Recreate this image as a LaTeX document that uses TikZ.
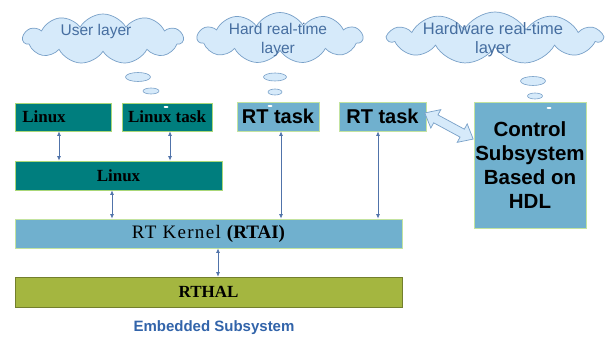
\documentclass[tikz,border=0pt]{standalone}
\usepackage{fontspec}
\setmainfont{Liberation Serif}
\setsansfont{Liberation Sans}
\usetikzlibrary{arrows.meta,shapes.symbols,shapes.arrows,shapes.geometric}
\definecolor{teal1}{RGB}{0,126,126}
\definecolor{tealbd}{RGB}{170,215,120}
\definecolor{sky}{RGB}{112,176,206}
\definecolor{olive1}{RGB}{164,182,64}
\definecolor{cloudfill}{RGB}{214,234,250}
\definecolor{cloudbd}{RGB}{120,160,200}
\definecolor{cloudtxt}{RGB}{70,110,160}
\definecolor{arr}{RGB}{80,115,170}
\definecolor{embtxt}{RGB}{50,100,170}
\begin{document}
\begin{tikzpicture}[x=1pt,y=-1pt,
  tealbox/.style={draw=tealbd,line width=0.8pt,fill=teal1,inner sep=0pt,
    font=\fontsize{17}{19}\selectfont\bfseries,text=black},
  skybox/.style={draw=tealbd!70!white,line width=0.8pt,fill=sky,inner sep=0pt},
  layercloud/.style={cloud,cloud puffs=11,cloud puff arc=120,aspect=3.4,draw=cloudbd,
    fill=cloudfill,line width=0.7pt,inner sep=0pt},
  cloudlabel/.style={text=cloudtxt,align=center,inner sep=0pt,
    font=\sffamily\fontsize{15.5}{19}\selectfont},
  bubble/.style={ellipse,draw=cloudbd,fill=cloudfill,line width=0.6pt,inner sep=0pt},
  link/.style={draw=arr,line width=0.8pt,{Latex[length=4.5pt,width=4pt]}-{Latex[length=4.5pt,width=4pt]}},
  whitemark/.style={fill=white,ellipse,inner sep=0pt,minimum width=5pt,minimum height=2pt},
  blockarrow/.style={draw=cloudbd,fill=cloudfill,line width=0.7pt,line join=miter}
]
\useasboundingbox (0,0) rectangle (605,339);
\fill[white] (0,0) rectangle (605,339);

% clouds
\node[layercloud,minimum width=160pt,minimum height=50pt] (c1) at (103,39) {};
\node[layercloud,minimum width=165pt,minimum height=51pt] (c2) at (280,38) {};
\node[layercloud,minimum width=214pt,minimum height=52pt] (c3) at (495,38) {};
\node[cloudlabel] (t1) at (96,31) {User layer};
\node[cloudlabel] (t2) at (278,40) {Hard real-time\\layer};
\node[cloudlabel,font=\sffamily\fontsize{16.5}{19}\selectfont] (t3) at (493,40) {Hardware real-time\\layer};

% thought bubbles
\node[bubble,minimum width=25pt,minimum height=9pt] (b1a) at (138,77) {};
\node[bubble,minimum width=16pt,minimum height=6pt] (b1b) at (151,91) {};
\node[bubble,minimum width=23pt,minimum height=8pt] (b2a) at (275,77) {};
\node[bubble,minimum width=14pt,minimum height=6pt] (b2b) at (275,92) {};
\node[bubble,minimum width=25pt,minimum height=9pt] (b3a) at (533,81) {};
\node[bubble,minimum width=15pt,minimum height=6pt] (b3b) at (535,96) {};

% boxes
\node[tealbox,minimum width=96pt,minimum height=28pt] (lx1) at (63,117) {Linux\hspace*{38pt}};
\node[tealbox,minimum width=90pt,minimum height=28pt] (lxt) at (167,117) {Linux task};
\node[tealbox,minimum width=207pt,minimum height=29pt] (lx2) at (118.5,175.5) {Linux};
\node[skybox,minimum width=82pt,minimum height=29pt,font=\sffamily\fontsize{20}{22}\selectfont\bfseries] (rt1) at (278,116.5) {RT task};
\node[skybox,minimum width=87pt,minimum height=29pt,font=\sffamily\fontsize{20}{22}\selectfont\bfseries] (rt2) at (382.5,116.5) {RT task};
\node[skybox,minimum width=112pt,minimum height=126pt,align=center,font=\sffamily\fontsize{20.5}{24}\selectfont\bfseries] (ctl) at (530,165) {Control\\Subsystem\\Based on\\HDL};
\node[skybox,minimum width=387pt,minimum height=29pt,font=\fontsize{19}{21}\selectfont] (ker) at (208.5,233.5) {{\addfontfeature{LetterSpace=7}RT Kernel} \textbf{(RTAI)}};
\node[draw=olive1!70!black,line width=0.6pt,fill=olive1,inner sep=0pt,minimum width=387pt,minimum height=30pt,font=\fontsize{17}{19}\selectfont\bfseries] (hal) at (208.5,292) {RTHAL};
\node[font=\sffamily\fontsize{15}{18}\selectfont\bfseries,text=embtxt] (emb) at (214,328) {Embedded Subsystem};

% small white marks
\node[whitemark] (d1) at (166,107) {};
\node[whitemark] (d2) at (270,106) {};
\node[whitemark] (d3) at (549,108) {};

% x positions of the connectors
\coordinate (xa) at (59,0);
\coordinate (xb) at (170,0);
\coordinate (xc) at (112,0);
\coordinate (xd) at (281,0);
\coordinate (xe) at (378,0);
\coordinate (xf) at (218,0);

% connectors
\draw[link] (lx1.south -| xa) -- (lx2.north -| xa);
\draw[link] (lxt.south -| xb) -- (lx2.north -| xb);
\draw[link] (lx2.south -| xc) -- (ker.north -| xc);
\draw[link] (rt1.south -| xd) -- (ker.north -| xd);
\draw[link] (rt2.south -| xe) -- (ker.north -| xe);
\draw[link] (ker.south -| xf) -- (hal.north -| xf);

% block double arrow between RT task and the control box
\begin{scope}[shift={(449,126)},rotate=-28.4]
\draw[blockarrow] (-27.5,0) -- (-15,10.5) -- (-15,4.5) -- (15,4.5) -- (15,10.5)
  -- (27.5,0) -- (15,-10.5) -- (15,-4.5) -- (-15,-4.5) -- (-15,-10.5) -- cycle;
\end{scope}
\end{tikzpicture}
\end{document}
